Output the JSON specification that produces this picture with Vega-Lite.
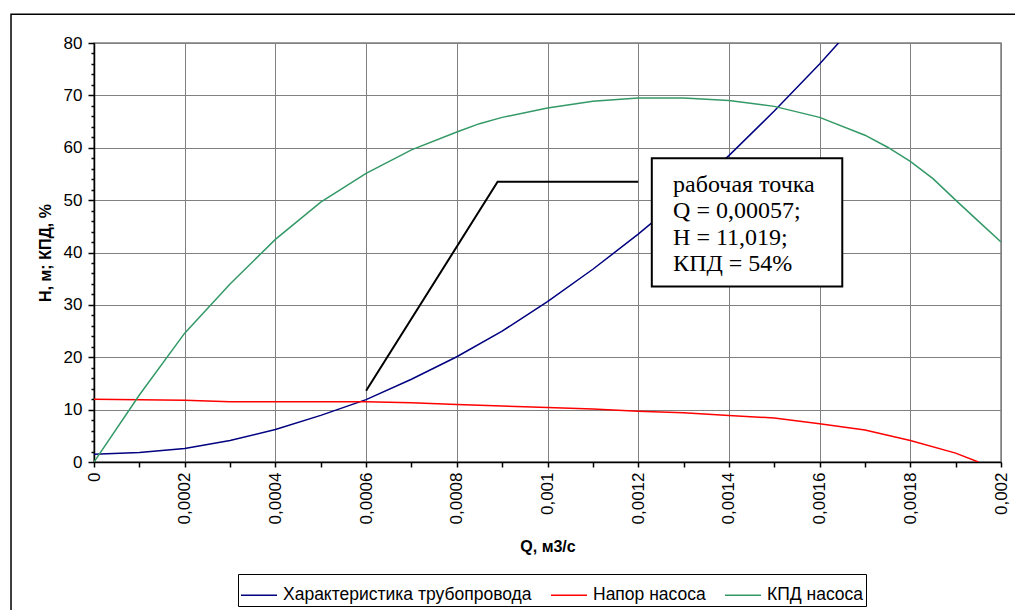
{
  "$schema": "https://vega.github.io/schema/vega-lite/v6.json",
  "width": 907,
  "height": 419,
  "autosize": {"type": "none"},
  "padding": {"left": 94, "top": 43, "right": 14, "bottom": 148},
  "background": "white",
  "config": {
    "view": {"stroke": "#808080", "strokeWidth": 1.5},
    "font": "Liberation Sans"
  },
  "datasets": {
    "series": [
      {"series": "Характеристика трубопровода", "Q": 0, "H": 1.5},
      {"series": "Характеристика трубопровода", "Q": 0.0001, "H": 1.8},
      {"series": "Характеристика трубопровода", "Q": 0.0002, "H": 2.6},
      {"series": "Характеристика трубопровода", "Q": 0.0003, "H": 4.1},
      {"series": "Характеристика трубопровода", "Q": 0.0004, "H": 6.2},
      {"series": "Характеристика трубопровода", "Q": 0.0005, "H": 8.9},
      {"series": "Характеристика трубопровода", "Q": 0.0006, "H": 11.9},
      {"series": "Характеристика трубопровода", "Q": 0.0007, "H": 15.8},
      {"series": "Характеристика трубопровода", "Q": 0.0008, "H": 20.1},
      {"series": "Характеристика трубопровода", "Q": 0.0009, "H": 25.0},
      {"series": "Характеристика трубопровода", "Q": 0.001, "H": 30.6},
      {"series": "Характеристика трубопровода", "Q": 0.0011, "H": 36.8},
      {"series": "Характеристика трубопровода", "Q": 0.0012, "H": 43.5},
      {"series": "Характеристика трубопровода", "Q": 0.0013, "H": 50.7},
      {"series": "Характеристика трубопровода", "Q": 0.0014, "H": 58.5},
      {"series": "Характеристика трубопровода", "Q": 0.0015, "H": 67.0},
      {"series": "Характеристика трубопровода", "Q": 0.0016, "H": 76.0},
      {"series": "Характеристика трубопровода", "Q": 0.0017, "H": 85.6},
      {"series": "Напор насоса", "Q": 0, "H": 12.0},
      {"series": "Напор насоса", "Q": 0.0001, "H": 11.9},
      {"series": "Напор насоса", "Q": 0.0002, "H": 11.8},
      {"series": "Напор насоса", "Q": 0.0003, "H": 11.5},
      {"series": "Напор насоса", "Q": 0.0004, "H": 11.5},
      {"series": "Напор насоса", "Q": 0.0005, "H": 11.5},
      {"series": "Напор насоса", "Q": 0.0006, "H": 11.5},
      {"series": "Напор насоса", "Q": 0.0007, "H": 11.3},
      {"series": "Напор насоса", "Q": 0.0008, "H": 11.0},
      {"series": "Напор насоса", "Q": 0.0009, "H": 10.7},
      {"series": "Напор насоса", "Q": 0.001, "H": 10.4},
      {"series": "Напор насоса", "Q": 0.0011, "H": 10.1},
      {"series": "Напор насоса", "Q": 0.0012, "H": 9.7},
      {"series": "Напор насоса", "Q": 0.0013, "H": 9.4},
      {"series": "Напор насоса", "Q": 0.0014, "H": 8.9},
      {"series": "Напор насоса", "Q": 0.0015, "H": 8.4},
      {"series": "Напор насоса", "Q": 0.0016, "H": 7.3},
      {"series": "Напор насоса", "Q": 0.0017, "H": 6.1},
      {"series": "Напор насоса", "Q": 0.00175, "H": 5.1},
      {"series": "Напор насоса", "Q": 0.0018, "H": 4.1},
      {"series": "Напор насоса", "Q": 0.0019, "H": 1.7},
      {"series": "Напор насоса", "Q": 0.00195, "H": 0},
      {"series": "КПД насоса", "Q": 0, "H": 0},
      {"series": "КПД насоса", "Q": 0.0001, "H": 12.8},
      {"series": "КПД насоса", "Q": 0.0002, "H": 24.6},
      {"series": "КПД насоса", "Q": 0.0003, "H": 34.0},
      {"series": "КПД насоса", "Q": 0.0004, "H": 42.5},
      {"series": "КПД насоса", "Q": 0.0005, "H": 49.6},
      {"series": "КПД насоса", "Q": 0.0006, "H": 55.1},
      {"series": "КПД насоса", "Q": 0.0007, "H": 59.6},
      {"series": "КПД насоса", "Q": 0.0008, "H": 63.0},
      {"series": "КПД насоса", "Q": 0.00085, "H": 64.6},
      {"series": "КПД насоса", "Q": 0.0009, "H": 65.8},
      {"series": "КПД насоса", "Q": 0.001, "H": 67.6},
      {"series": "КПД насоса", "Q": 0.0011, "H": 68.9},
      {"series": "КПД насоса", "Q": 0.0012, "H": 69.5},
      {"series": "КПД насоса", "Q": 0.0013, "H": 69.5},
      {"series": "КПД насоса", "Q": 0.0014, "H": 69.0},
      {"series": "КПД насоса", "Q": 0.0015, "H": 67.9},
      {"series": "КПД насоса", "Q": 0.0016, "H": 65.8},
      {"series": "КПД насоса", "Q": 0.0017, "H": 62.4},
      {"series": "КПД насоса", "Q": 0.00175, "H": 60.1},
      {"series": "КПД насоса", "Q": 0.0018, "H": 57.4},
      {"series": "КПД насоса", "Q": 0.00185, "H": 54.1},
      {"series": "КПД насоса", "Q": 0.0019, "H": 50.0},
      {"series": "КПД насоса", "Q": 0.00195, "H": 46.0},
      {"series": "КПД насоса", "Q": 0.002, "H": 42.0}
    ],
    "pointer": [
      {"order": 1, "Q": 0.0006, "H": 13.6},
      {"order": 2, "Q": 0.00089, "H": 53.5},
      {"order": 3, "Q": 0.0012, "H": 53.5}
    ],
    "box": [
      {"Q": 0.00123, "Q2": 0.00165, "H": 58.0, "H2": 33.5}
    ],
    "note": [
      {"Q": 0.001277, "H": 51.5, "label": "рабочая точка"},
      {"Q": 0.001277, "H": 46.5, "label": "Q = 0,00057;"},
      {"Q": 0.001277, "H": 41.5, "label": "H = 11,019;"},
      {"Q": 0.001277, "H": 36.4, "label": "КПД = 54%"}
    ],
    "frame": [
      {"Q": -0.000183, "Q2": 0.0026, "H": 85.5, "H2": -40}
    ]
  },
  "encoding": {
    "x": {
      "field": "Q",
      "type": "quantitative",
      "title": "Q, м3/с",
      "scale": {"domain": [0, 0.002], "nice": false, "zero": false},
      "axis": {
        "values": [0, 0.0001, 0.0002, 0.0003, 0.0004, 0.0005, 0.0006, 0.0007, 0.0008, 0.0009, 0.001, 0.0011, 0.0012, 0.0013, 0.0014, 0.0015, 0.0016, 0.0017, 0.0018, 0.0019, 0.002],
        "labelExpr": "round(datum.value*10000)%2==0 ? (datum.value==0 ? '0' : replace(format(datum.value, '.4~f'), '.', ',')) : ''",
        "labelAngle": 270,
        "labelFontSize": 17,
        "labelColor": "black",
        "labelPadding": 5,
        "labelOverlap": false,
        "labelFlush": false,
        "grid": true,
        "gridColor": "#808080",
        "gridWidth": 1,
        "gridOpacity": {"condition": {"test": "round(datum.value*10000)%2==0", "value": 1}, "value": 0},
        "domainColor": "black",
        "domainWidth": 1.5,
        "tickColor": "black",
        "tickWidth": 1.5,
        "tickSize": 5,
        "titleFontSize": 16,
        "titleFontWeight": "bold",
        "titleColor": "black",
        "titlePadding": 15
      }
    },
    "y": {
      "field": "H",
      "type": "quantitative",
      "title": "H, м; КПД, %",
      "scale": {"domain": [0, 80], "nice": false, "zero": false},
      "axis": {
        "values": [0, 2, 4, 6, 8, 10, 12, 14, 16, 18, 20, 22, 24, 26, 28, 30, 32, 34, 36, 38, 40, 42, 44, 46, 48, 50, 52, 54, 56, 58, 60, 62, 64, 66, 68, 70, 72, 74, 76, 78, 80],
        "labelExpr": "datum.value % 10 == 0 ? datum.label : ''",
        "labelFontSize": 17,
        "labelColor": "black",
        "labelPadding": 6,
        "labelOverlap": false,
        "labelFlush": false,
        "grid": true,
        "gridColor": "#808080",
        "gridWidth": 1,
        "gridOpacity": {"condition": {"test": "datum.value % 10 == 0", "value": 1}, "value": 0},
        "domainColor": "black",
        "domainWidth": 1.5,
        "tickColor": "black",
        "tickWidth": 1.5,
        "tickSize": {"condition": {"test": "datum.value % 10 == 0", "value": 6}, "value": 3},
        "titleFontSize": 16,
        "titleFontWeight": "bold",
        "titleColor": "black",
        "titlePadding": 10
      }
    }
  },
  "layer": [
    {
      "data": {"name": "frame"},
      "mark": {"type": "rect", "fill": null, "fillOpacity": 0, "stroke": "black", "strokeWidth": 1.5},
      "encoding": {"x2": {"field": "Q2"}, "y2": {"field": "H2"}}
    },
    {
      "data": {"name": "series"},
      "mark": {"type": "line", "clip": true, "strokeWidth": 1.5},
      "encoding": {
        "color": {
          "field": "series",
          "type": "nominal",
          "scale": {"domain": ["Характеристика трубопровода", "Напор насоса", "КПД насоса"], "range": ["#000080", "#ff0000", "#339966"]},
          "legend": {
            "title": null,
            "orient": "none",
            "legendX": 144,
            "legendY": 531,
            "direction": "horizontal",
            "symbolType": "stroke",
            "symbolSize": 1296,
            "symbolStrokeWidth": 1.5,
            "labelFontSize": 17.5,
            "labelFont": "Liberation Sans",
            "labelColor": "black",
            "labelLimit": 0,
            "labelOffset": 5,
            "columnPadding": 16,
            "strokeColor": "black",
            "fillColor": "white",
            "padding": 2
          }
        }
      }
    },
    {
      "data": {"name": "pointer"},
      "mark": {"type": "line", "color": "black", "strokeWidth": 2},
      "encoding": {"order": {"field": "order", "type": "quantitative"}}
    },
    {
      "data": {"name": "box"},
      "mark": {"type": "rect", "fill": "white", "stroke": "black", "strokeWidth": 2},
      "encoding": {"x2": {"field": "Q2"}, "y2": {"field": "H2"}}
    },
    {
      "data": {"name": "note"},
      "mark": {"type": "text", "align": "left", "baseline": "alphabetic", "font": "Liberation Serif", "fontSize": 24, "color": "black"},
      "encoding": {"text": {"field": "label", "type": "nominal"}}
    }
  ]
}
